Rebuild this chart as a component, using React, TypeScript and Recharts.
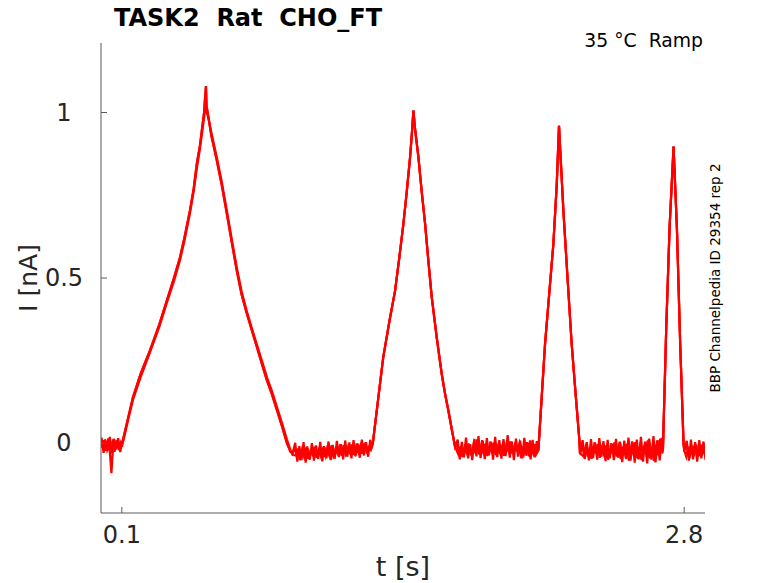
import React from "react";
import { LineChart, Line, XAxis, YAxis, Label } from "recharts";

// sample spacing of the noisy holding segments [s]; later sweeps are sampled a bit later
const noiseStep = 0.01;
const sweep2Offset = 0.005;
const sweep3Offset = 0.0025;

// holding current before the first ramp, t = 0.00 ... 0.09
const preNoise1 = [0.008, -0.015, 0.012, -0.02, -0.004, -0.09, 0.01, -0.018, 0.006, -0.012];
const preNoise2 = [-0.014, 0.01, -0.022, 0.015, -0.01, 0.005, -0.025, 0.009, -0.02, 0.002];
const preNoise3 = [0.018, -0.028, 0.004, -0.012, 0.02, -0.03, 0.014, -0.008, 0.016, -0.026];

// ramp responses as [t (s), I (nA)]
const ramp1a: [number, number][] = [
  [0.1, 0.0], [0.105, 0.01], [0.12, 0.05], [0.153, 0.139], [0.19, 0.21], [0.235, 0.281],
  [0.28, 0.36], [0.316, 0.432], [0.35, 0.5], [0.379, 0.562], [0.4, 0.62], [0.427, 0.704],
  [0.445, 0.77], [0.46, 0.846], [0.475, 0.9], [0.484, 0.946], [0.495, 1.0], [0.5, 1.05],
  [0.504, 1.08], [0.507, 1.02], [0.513, 0.997], [0.53, 0.93], [0.556, 0.855], [0.58, 0.78],
  [0.604, 0.695], [0.63, 0.6], [0.652, 0.522], [0.675, 0.45], [0.7, 0.393], [0.725, 0.34],
  [0.749, 0.29], [0.775, 0.235], [0.797, 0.19], [0.82, 0.15], [0.845, 0.1], [0.87, 0.05],
  [0.893, 0.0], [0.91, -0.025], [0.92, -0.03],
];
const ramp1b: [number, number][] = [
  [0.1, -0.01], [0.11, 0.015], [0.13, 0.07], [0.155, 0.135], [0.19, 0.2], [0.235, 0.275],
  [0.28, 0.352], [0.316, 0.425], [0.35, 0.49], [0.379, 0.553], [0.4, 0.61], [0.427, 0.695],
  [0.445, 0.762], [0.46, 0.83], [0.475, 0.89], [0.488, 0.95], [0.498, 1.0], [0.503, 1.03],
  [0.508, 1.0], [0.515, 0.985], [0.53, 0.94], [0.556, 0.865], [0.58, 0.79], [0.604, 0.705],
  [0.63, 0.61], [0.652, 0.532], [0.675, 0.46], [0.7, 0.4], [0.725, 0.347], [0.749, 0.298],
  [0.775, 0.245], [0.797, 0.2], [0.82, 0.16], [0.845, 0.11], [0.87, 0.06], [0.893, 0.012],
  [0.91, -0.02], [0.92, -0.035],
];
const ramp2: [number, number][] = [
  [1.3, -0.01], [1.305, 0.0], [1.33, 0.13], [1.355, 0.26], [1.385, 0.37], [1.412, 0.462],
  [1.432, 0.56], [1.452, 0.664], [1.468, 0.76], [1.484, 0.865], [1.493, 0.94], [1.5, 1.006],
  [1.508, 0.95], [1.524, 0.865], [1.54, 0.76], [1.556, 0.664], [1.572, 0.55], [1.588, 0.442],
  [1.612, 0.32], [1.636, 0.21], [1.652, 0.15], [1.668, 0.099], [1.685, 0.04], [1.7, -0.01],
];
const ramp3: [number, number][] = [
  [2.1, -0.02], [2.132, 0.301], [2.172, 0.603], [2.188, 0.78], [2.199, 0.96], [2.208, 0.85],
  [2.22, 0.704], [2.24, 0.5], [2.26, 0.3], [2.28, 0.14], [2.297, 0.009], [2.3, -0.03],
];
const ramp4: [number, number][] = [
  [2.698, -0.02], [2.714, 0.351], [2.73, 0.653], [2.749, 0.897], [2.765, 0.653],
  [2.781, 0.3], [2.797, 0.0], [2.8, -0.02],
];

// holding segments between ramps (three sweeps)
const flat1Start = 0.93;
const flat1Noise1 = [
  -0.012, -0.041, -0.018, -0.047, -0.022, -0.038, -0.009, -0.044, -0.025, -0.035, -0.011, -0.042,
  -0.019, -0.036, -0.008, -0.039, -0.021, -0.033, -0.006, -0.04, -0.017, -0.031, -0.004, -0.037,
  -0.014, -0.029, -0.002, -0.034, -0.012, -0.03, 0.0, -0.032, -0.01, -0.027, 0.003, -0.029, -0.008,
];
const flat1Noise2 = [
  -0.036, -0.015, -0.05, -0.02, -0.04, -0.013, -0.046, -0.024, -0.033, -0.01, -0.043, -0.02,
  -0.038, -0.012, -0.041, -0.016, -0.035, -0.007, -0.038, -0.019, -0.03, -0.011, -0.036, -0.005,
  -0.032, -0.015, -0.028, -0.003, -0.035, -0.009, -0.026, -0.006, -0.031, 0.001, -0.024, -0.012, -0.02,
];
const flat1Noise3 = [
  0.002, -0.055, -0.008, -0.05, 0.004, -0.058, -0.015, -0.049, 0.001, -0.052, -0.006, -0.047,
  0.005, -0.054, -0.011, -0.044, 0.006, -0.05, -0.004, -0.046, 0.008, -0.041, -0.002, -0.048,
  0.009, -0.04, 0.003, -0.045, 0.01, -0.038, -0.001, -0.043, 0.012, -0.036, 0.004, -0.04, 0.011,
];
const flat2Start = 1.71;
const flat2Noise1 = [
  -0.005, -0.03, -0.012, -0.038, -0.002, -0.027, -0.015, -0.035, 0.004, -0.022, -0.008, -0.033,
  0.01, -0.02, -0.003, -0.031, 0.006, -0.024, -0.011, -0.036, 0.002, -0.019, -0.007, -0.03, 0.008,
  -0.021, -0.004, -0.028, 0.005, -0.026, 0.003, -0.017, -0.034, -0.006, -0.029, 0.009, -0.023,
  -0.013, -0.032,
];
const flat2Noise2 = [
  -0.032, -0.01, -0.041, -0.018, -0.029, 0.0, -0.036, -0.014, -0.025, 0.012, -0.033, -0.009,
  -0.027, -0.001, -0.038, -0.016, -0.024, 0.003, -0.034, -0.012, -0.028, -0.004, -0.037, -0.013,
  -0.022, 0.006, -0.031, -0.01, -0.02, -0.008, -0.035, -0.015, -0.026, 0.004, -0.039, -0.011,
  -0.03, -0.002, -0.024,
];
const flat2Noise3 = [
  0.012, -0.048, 0.005, -0.042, 0.018, -0.045, -0.002, -0.05, 0.014, -0.039, 0.022, -0.044,
  0.008, -0.047, 0.016, -0.036, 0.003, -0.049, 0.02, -0.041, 0.01, -0.046, 0.013, -0.038, 0.025,
  -0.043, 0.006, -0.05, 0.015, -0.04, 0.009, -0.045, 0.017, -0.037, 0.002, -0.048, 0.011, -0.042,
  0.007,
];
const flat3Start = 2.31;
const flat3Noise1 = [
  -0.01, -0.033, -0.001, -0.029, -0.014, -0.039, 0.004, -0.022, -0.009, -0.035, -0.002, -0.03,
  -0.016, -0.042, 0.001, -0.026, -0.007, -0.036, 0.005, -0.024, -0.013, -0.045, -0.003, -0.031,
  0.006, -0.027, -0.011, -0.048, 0.003, -0.022, -0.006, -0.04, 0.012, -0.028, -0.009, -0.044,
  0.008, -0.02, -0.005,
];
const flat3Noise2 = [
  -0.038, -0.011, -0.034, -0.019, -0.046, -0.008, -0.03, -0.002, -0.043, -0.015, -0.035, -0.006,
  -0.049, -0.021, -0.028, 0.003, -0.039, -0.014, -0.047, -0.01, -0.033, -0.001, -0.052, -0.018,
  -0.029, 0.004, -0.044, -0.012, -0.05, -0.016, -0.027, 0.009, -0.045, -0.019, -0.053, -0.004,
  -0.036, 0.015, -0.03,
];
const flat3Noise3 = [
  0.01, -0.047, 0.004, -0.051, 0.013, -0.044, 0.001, -0.049, 0.016, -0.04, 0.007, -0.053, 0.011,
  -0.045, -0.002, -0.05, 0.014, -0.043, 0.005, -0.056, 0.009, -0.047, 0.018, -0.052, 0.003,
  -0.058, 0.012, -0.046, 0.02, -0.055, 0.006, -0.06, 0.015, -0.049, 0.022, -0.057, 0.01, -0.051,
  0.017,
];
const flat4Start = 2.81;
const flat4Noise1 = [-0.04, -0.01, -0.035, -0.006, -0.03, -0.012, -0.038, -0.004, -0.028, -0.015];
const flat4Noise2 = [-0.012, -0.045, -0.018, -0.033, -0.003, -0.04, -0.016, -0.029, -0.008, -0.034];
const flat4Noise3 = [0.008, -0.052, 0.012, -0.048, 0.004, -0.055, 0.01, -0.045, 0.006, -0.05];

const xTicks = [0.1, 2.8];
const yTicks = [0, 0.5, 1];

const FONT = "DejaVu Sans";
const TEXT = "#262626";
const AXIS = "#5a5a5a";
const RED = "#ff0000";

type Pt = { t: number; i: number };

const held = (start: number, values: number[], offset = 0): Pt[] =>
  values.map((v, k) => ({ t: Math.round((start + offset + k * noiseStep) * 10000) / 10000, i: v }));
const ramp = (pts: [number, number][]): Pt[] => pts.map(([t, i]) => ({ t, i }));

const sweep1 = [
  ...held(0, preNoise1), ...ramp(ramp1a), ...held(flat1Start, flat1Noise1), ...ramp(ramp2),
  ...held(flat2Start, flat2Noise1), ...ramp(ramp3), ...held(flat3Start, flat3Noise1),
  ...ramp(ramp4), ...held(flat4Start, flat4Noise1),
];
const sweep2 = [
  ...held(0, preNoise2, sweep2Offset), ...ramp(ramp1b),
  ...held(flat1Start, flat1Noise2, sweep2Offset), ...ramp(ramp2),
  ...held(flat2Start, flat2Noise2, sweep2Offset), ...ramp(ramp3),
  ...held(flat3Start, flat3Noise2, sweep2Offset), ...ramp(ramp4),
  ...held(flat4Start, flat4Noise2, sweep2Offset),
];
const sweep3 = [
  ...held(0, preNoise3, sweep3Offset), ...ramp(ramp1a),
  ...held(flat1Start, flat1Noise3, sweep3Offset), ...ramp(ramp2),
  ...held(flat2Start, flat2Noise3, sweep3Offset), ...ramp(ramp3),
  ...held(flat3Start, flat3Noise3, sweep3Offset), ...ramp(ramp4),
  ...held(flat4Start, flat4Noise3, sweep3Offset),
];
const sweeps = [sweep1, sweep2, sweep3];

const YTick = (props: any) => {
  const { x, y, payload } = props;
  return (
    <g>
      <line x1={x} x2={x + 6} y1={y} y2={y} stroke={AXIS} strokeWidth={1} />
      <text x={x - 37} y={y + 8} textAnchor="middle" fontFamily={FONT} fontSize={24} fill={TEXT}>
        {payload.value}
      </text>
    </g>
  );
};

const XTick = (props: any) => {
  const { x, y, payload } = props;
  return (
    <g>
      <line x1={x} x2={x} y1={y} y2={y - 6} stroke={AXIS} strokeWidth={1} />
      <text x={x} y={y + 30} textAnchor="middle" fontFamily={FONT} fontSize={24} fill={TEXT}>
        {payload.value}
      </text>
    </g>
  );
};

export default function App() {
  return (
    <div style={{ position: "relative", width: 778, height: 583, margin: "-8px 0 0 -8px" }}>
      <LineChart width={778} height={583} margin={{ top: 43, right: 73, bottom: 30, left: 0 }}>
        <XAxis
          type="number"
          dataKey="t"
          domain={[0, 2.9]}
          ticks={xTicks}
          interval={0}
          allowDataOverflow
          height={40}
          axisLine={{ stroke: AXIS, strokeWidth: 1 }}
          tickLine={false}
          tickSize={0}
          tickMargin={0}
          tick={XTick}
        >
          <Label
            content={({ viewBox }: any) => (
              <text
                x={viewBox.x + viewBox.width / 2}
                y={viewBox.y + 63}
                textAnchor="middle"
                fontFamily={FONT}
                fontSize={27}
                fill={TEXT}
              >
                t [s]
              </text>
            )}
          />
        </XAxis>
        <YAxis
          type="number"
          domain={[-0.21, 1.21]}
          ticks={yTicks}
          interval={0}
          allowDataOverflow
          width={101}
          axisLine={{ stroke: AXIS, strokeWidth: 1 }}
          tickLine={false}
          tickSize={0}
          tickMargin={0}
          tick={YTick}
        >
          <Label
            content={({ viewBox }: any) => {
              const cy = viewBox.y + viewBox.height / 2;
              return (
                <text
                  x={37}
                  y={cy}
                  transform={`rotate(-90, 37, ${cy})`}
                  textAnchor="middle"
                  fontFamily={FONT}
                  fontSize={25}
                  fill={TEXT}
                >
                  I [nA]
                </text>
              );
            }}
          />
        </YAxis>
        {sweeps.map((s, k) => (
          <Line
            key={k}
            data={s}
            dataKey="i"
            type="linear"
            dot={false}
            stroke={RED}
            strokeWidth={2.2}
            isAnimationActive={false}
          />
        ))}
      </LineChart>
      <svg width={778} height={583} style={{ position: "absolute", left: 0, top: 0, pointerEvents: "none" }}>
        <text x={114} y={26} fontFamily={FONT} fontWeight="bold" fontSize={24} fill="#000" style={{ whiteSpace: "pre" }}>
          TASK2  Rat  CHO_FT
        </text>
        <text x={703} y={47} textAnchor="end" fontFamily={FONT} fontSize={18.8} fill="#000" style={{ whiteSpace: "pre" }}>
          35 °C  Ramp
        </text>
        <text
          x={720}
          y={278}
          transform="rotate(-90, 720, 278)"
          textAnchor="middle"
          fontFamily={FONT}
          fontSize={13.5}
          fill="#000"
        >
          BBP Channelpedia ID 29354 rep 2
        </text>
      </svg>
    </div>
  );
}
